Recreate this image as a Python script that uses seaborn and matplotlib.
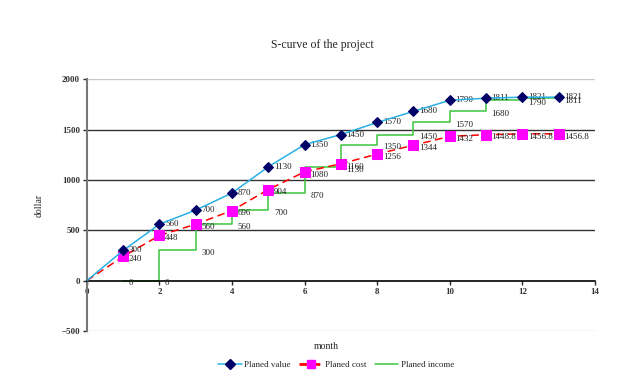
import matplotlib
matplotlib.use("Agg")
import matplotlib.pyplot as plt
from matplotlib.lines import Line2D
import numpy as np
import seaborn as sns
import pandas as pd

# Données (mois 0..13)
months = list(range(0, 14))
planed_value = [0, 300, 560, 700, 870, 1130, 1350, 1450, 1570, 1680, 1790, 1811, 1821, 1821]
planed_cost = [0, 240, 448, 560, 696, 904, 1080, 1160, 1256, 1344, 1432, 1448.8, 1456.8, 1456.8]
income_months = list(range(1, 14))
planed_income = [0, 0, 300, 560, 700, 870, 1130, 1350, 1450, 1570, 1680, 1790, 1811]

sns.set_style("white")
plt.rcParams["font.family"] = ["Liberation Serif", "DejaVu Serif"]

df = pd.DataFrame({"month": months, "value": planed_value, "cost": planed_cost})
df_inc = pd.DataFrame({"month": income_months, "income": planed_income})

fig = plt.figure(figsize=(6.39, 3.86), dpi=100)
ax = fig.add_axes([0.136, 0.1425, 0.795, 0.6525])

c_value = "#29B0E6"
c_cost = "#FF0000"
c_income = "#3CC43C"

# Lignes de fond
for yv in [500, 1000, 1500]:
    ax.axhline(yv, color="#333333", lw=1, zorder=0)
for yv in [-500, 2000]:
    ax.axhline(yv, color="#C8C8C8", lw=1, zorder=0)

# Séries
sns.lineplot(data=df_inc, x="month", y="income", ax=ax, color=c_income,
             lw=1.1, drawstyle="steps-pre", zorder=2)
sns.lineplot(data=df, x="month", y="cost", ax=ax, color=c_cost, lw=1.1,
             linestyle=(0, (5, 3)), marker="s", markersize=6.5,
             markerfacecolor="#FF00FF", markeredgecolor="#FF00FF",
             markevery=list(range(1, 14)), zorder=3)
sns.lineplot(data=df, x="month", y="value", ax=ax, color=c_value, lw=1.1,
             marker="D", markersize=5.5, markerfacecolor="#000066",
             markeredgecolor="#000066", markevery=list(range(1, 14)), zorder=4)

# Étiquettes des points
def fmt(v):
    return f"{v:g}"

for x, v in zip(months[1:], planed_value[1:]):
    ax.annotate(fmt(v), (x, v), xytext=(4, 0), textcoords="offset points",
                va="center", ha="left", fontsize=6.5, color="#222222")
for x, v in zip(months[1:], planed_cost[1:]):
    ax.annotate(fmt(v), (x, v), xytext=(4, -2), textcoords="offset points",
                va="center", ha="left", fontsize=6.5, color="#222222")
for x, v in zip(income_months, planed_income):
    ax.annotate(fmt(v), (x, v), xytext=(4, -2), textcoords="offset points",
                va="center", ha="left", fontsize=6.5, color="#222222")

# Axes
ax.set_xlim(0, 14)
ax.set_ylim(-500, 2000)
ax.set_xticks(range(0, 15, 2))
ax.set_yticks(range(-500, 2001, 500))
ax.spines["top"].set_visible(False)
ax.spines["right"].set_visible(False)
ax.spines["bottom"].set_position(("data", 0))
ax.spines["bottom"].set_color("black")
ax.spines["bottom"].set_linewidth(1.2)
ax.spines["left"].set_color("#777777")
ax.spines["left"].set_linewidth(1.5)
ax.tick_params(axis="both", which="both", length=3, width=1, labelsize=6.5,
               direction="out", left=True, bottom=True, pad=2)
for lab in ax.get_xticklabels() + ax.get_yticklabels():
    lab.set_fontweight("bold")
    lab.set_color("#333333")

ax.set_xlabel("month", fontsize=7)
ax.xaxis.set_label_coords(0.472, -0.045)
ax.set_ylabel("dollar", fontsize=7)
ax.yaxis.set_label_coords(-0.085, 0.5)
fig.text(0.504, 0.883, "S-curve of the project", fontsize=8.5,
         ha="center", va="center")

handles = [
    Line2D([], [], color=c_value, lw=1.1, marker="D", markersize=5,
           markerfacecolor="#000066", markeredgecolor="#000066"),
    Line2D([], [], color=c_cost, lw=2, linestyle=(0, (3, 1.5)), marker="s",
           markersize=5.5, markerfacecolor="#FF00FF", markeredgecolor="#FF00FF"),
    Line2D([], [], color=c_income, lw=1.1),
]
fig.legend(handles, ["Planed value", "Planed cost", "Planed income"],
           loc="center", bbox_to_anchor=(0.526, 0.054), ncol=3,
           frameon=False, fontsize=6.5, handlelength=2.6, columnspacing=0.9,
           handletextpad=0.3)

fig.savefig("out.png", dpi=100)
